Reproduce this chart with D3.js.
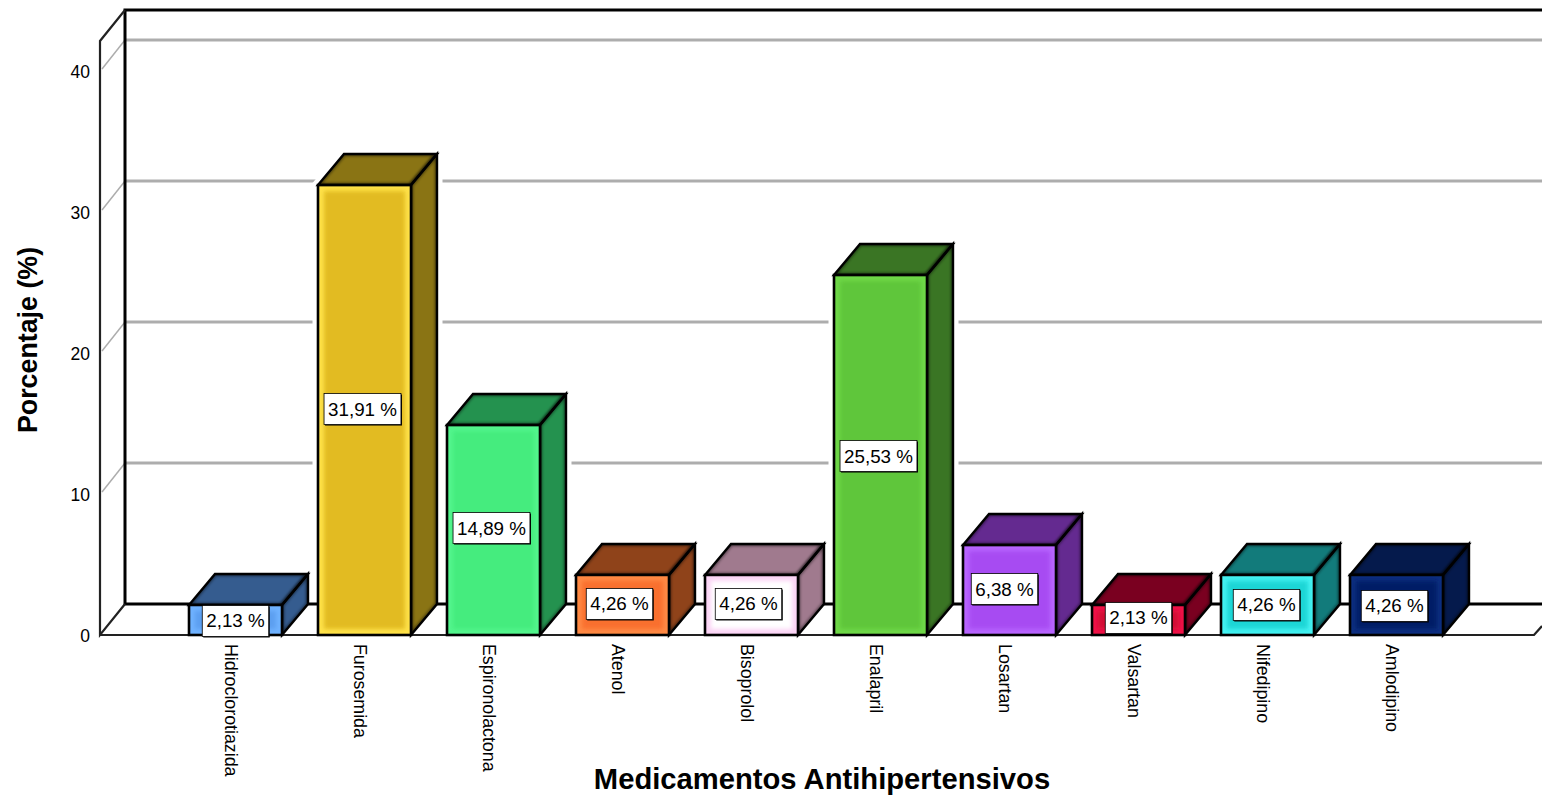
<!DOCTYPE html>
<html lang="es">
<head>
<meta charset="utf-8">
<title>Medicamentos Antihipertensivos</title>
<script src="https://cdn.jsdelivr.net/npm/d3@7"></script>
<style>
  html, body { margin: 0; padding: 0; background: #fff; overflow: hidden; }
  svg { display: block; font-family: "Liberation Sans", Arial, sans-serif; }
</style>
</head>
<body>
<svg id="chart" width="1542" height="797"></svg>
<script>
// Chart values
const categories = ["Hidroclorotiazida", "Furosemida", "Espironolactona", "Atenol", "Bisoprolol",
  "Enalapril", "Losartan", "Valsartan", "Nifedipino", "Amlodipino"];
const percentages = [2.13, 31.91, 14.89, 4.26, 4.26, 25.53, 6.38, 2.13, 4.26, 4.26];
const yTicks = [0, 10, 20, 30, 40];

// Face colours per bar: centre of the front, rim of the front, top and side
const frontFill = ["#5b9ff0", "#e2bb20", "#45ec7e", "#f9702f", "#ffffff", "#5fc63a", "#a74cf2", "#d20a35", "#1fd6d6", "#021f66"];
const frontRim  = ["#6fb2ff", "#ffe24a", "#52f58c", "#ff8a45", "#fbd3f5", "#6fd848", "#b865ff", "#f01248", "#45f2f2", "#0c2f80"];
const topFill   = ["#355c8f", "#8a7414", "#24924f", "#8f431a", "#a07a8e", "#3a7524", "#642a90", "#7a0020", "#127b7b", "#051a4c"];

// Small shifts of the value labels away from the centre of their bars
const labelShiftX = [0, -2, -2, -3, -3, -2, -5, 0, -1, -2];
const labelShiftY = [1, -1, -2, -1, -1, 1, -1, -2, 0, 1];

const wallDepth = { x: 25, y: -31 };
const barDepth = { x: 26, y: -31 };
const frontBase = 635;
const frontTop = 71;
const leftX = 100;

const svg = d3.select("#chart");

const y = d3.scaleLinear().domain([0, 40]).range([frontBase, frontTop]);
const x = d3.scaleBand().domain(categories).range([171, 1461]).paddingInner(36 / 129).paddingOuter(18 / 129);

const defs = svg.append("defs");
defs.append("filter").attr("id", "soft")
  .attr("x", "-20%").attr("y", "-20%").attr("width", "140%").attr("height", "140%")
  .append("feGaussianBlur").attr("stdDeviation", 2.2);
defs.append("filter").attr("id", "shade")
  .attr("x", "-20%").attr("y", "-20%").attr("width", "140%").attr("height", "140%")
  .append("feGaussianBlur").attr("stdDeviation", 1.4);

const backY = v => y(v) + wallDepth.y;

// Back wall gridlines and their continuation on the left wall
const grid = svg.append("g").attr("fill", "none").attr("stroke", "#adadad");
grid.selectAll("line.back").data(yTicks.slice(1)).join("line").attr("class", "back")
  .attr("x1", leftX + wallDepth.x).attr("x2", 1542)
  .attr("y1", backY).attr("y2", backY)
  .attr("stroke-width", 3);
grid.selectAll("line.side").data(yTicks.slice(1)).join("line").attr("class", "side")
  .attr("x1", leftX + 2).attr("x2", leftX + wallDepth.x)
  .attr("y1", d => y(d) - 2).attr("y2", backY)
  .attr("stroke-width", 1.5);

// White halo that keeps the gridlines off the bars
const outline = (d) => {
  const x0 = x(d.name), x1 = x0 + x.bandwidth(), yt = y(d.value), yb = y(0);
  return [[x0, yb], [x0, yt], [x0 + barDepth.x, yt + barDepth.y],
    [x1 + barDepth.x, yt + barDepth.y], [x1 + barDepth.x, yb + barDepth.y], [x1, yb]].join(" ");
};
const rows = categories.map((name, i) => ({ name, value: percentages[i], i }));

svg.append("g").selectAll("polygon").data(rows).join("polygon")
  .attr("points", outline)
  .attr("fill", "#fff").attr("stroke", "#fff").attr("stroke-width", 11);

// Frame of the box: floor, back wall and left wall
const frame = svg.append("g").attr("fill", "none").attr("stroke", "#000");
const line = d3.line();
frame.append("path").attr("stroke-width", 3)
  .attr("d", line([[1542, 10], [leftX + wallDepth.x, 10], [leftX + wallDepth.x, frontBase + wallDepth.y], [1542, frontBase + wallDepth.y]]));
frame.append("path").attr("stroke-width", 2.2).attr("stroke", "#222")
  .attr("d", line([[leftX + wallDepth.x, 10], [leftX, 41], [leftX, frontBase], [leftX + wallDepth.x, frontBase + wallDepth.y]]));
frame.append("path").attr("stroke-width", 2.2).attr("stroke", "#222")
  .attr("d", line([[leftX, frontBase], [1534, frontBase], [1542, 626]]));

// Bars as three visible faces of a box
const bars = svg.append("g").selectAll("g").data(rows).join("g");

bars.each(function (d) {
  const g = d3.select(this);
  const x0 = x(d.name), w = x.bandwidth(), x1 = x0 + w, yt = y(d.value), yb = y(0);
  const h = yb - yt;
  const clipId = "front-" + d.i;
  const faceId = "faces-" + d.i;

  const topPts = [[x0, yt], [x0 + barDepth.x, yt + barDepth.y], [x1 + barDepth.x, yt + barDepth.y], [x1, yt]];
  const sidePts = [[x1, yt], [x1 + barDepth.x, yt + barDepth.y], [x1 + barDepth.x, yb + barDepth.y], [x1, yb]];

  // Faces get a slight dark rim along the black edges
  const cp = defs.append("clipPath").attr("id", faceId);
  cp.append("polygon").attr("points", topPts.join(" "));
  cp.append("polygon").attr("points", sidePts.join(" "));
  const faces = g.append("g").attr("clip-path", `url(#${faceId})`);
  [topPts, sidePts].forEach(pts => {
    faces.append("polygon").attr("points", pts.join(" ")).attr("fill", topFill[d.i]);
    faces.append("polygon").attr("points", pts.join(" ")).attr("fill", "none")
      .attr("stroke", "#000").attr("stroke-opacity", 0.55).attr("stroke-width", 4).attr("filter", "url(#shade)");
  });
  [topPts, sidePts].forEach(pts => {
    g.append("polygon").attr("points", pts.join(" ")).attr("fill", "none")
      .attr("stroke", "#000").attr("stroke-width", 2.4).attr("stroke-linejoin", "miter");
  });

  // Front face: bright rim fading into the centre colour
  defs.append("clipPath").attr("id", clipId).append("rect")
    .attr("x", x0).attr("y", yt).attr("width", w).attr("height", h);
  const front = g.append("g").attr("clip-path", `url(#${clipId})`);
  front.append("rect").attr("x", x0).attr("y", yt).attr("width", w).attr("height", h).attr("fill", frontRim[d.i]);
  front.append("rect").attr("x", x0 + 6).attr("y", yt + 6)
    .attr("width", Math.max(0, w - 12)).attr("height", Math.max(0, h - 12))
    .attr("fill", frontFill[d.i]).attr("filter", "url(#soft)");
  g.append("rect").attr("x", x0).attr("y", yt).attr("width", w).attr("height", h)
    .attr("fill", "none").attr("stroke", "#000").attr("stroke-width", 2.6);
});

// Value labels in white boxes sized to their text, with a hard offset shadow
const labels = svg.append("g").selectAll("g").data(rows).join("g")
  .attr("transform", d => `translate(${x(d.name) + x.bandwidth() / 2 + labelShiftX[d.i]},${y(d.value / 2) + labelShiftY[d.i]})`);
labels.each(function (d) {
  const g = d3.select(this);
  const text = g.append("text")
    .attr("text-anchor", "middle").attr("y", 6.5)
    .attr("font-size", 18.8).attr("fill", "#000")
    .text(d.value.toFixed(2).replace(".", ",") + " %");
  const half = text.node().getComputedTextLength() / 2 + 4;
  g.insert("rect", "text")
    .attr("x", -half + 1).attr("y", -14.5).attr("width", half * 2).attr("height", 31)
    .attr("fill", "#000");
  g.insert("rect", "text")
    .attr("x", -half).attr("y", -15.5).attr("width", half * 2).attr("height", 31)
    .attr("fill", "#fff").attr("stroke", "#000").attr("stroke-width", 0.8);
});

// Value axis
const yAxis = d3.axisLeft(y).tickValues(yTicks).tickSize(0).tickPadding(10).tickFormat(d3.format("d"));
svg.append("g").attr("transform", `translate(${leftX},0)`).call(yAxis)
  .call(g => g.select(".domain").remove())
  .call(g => g.selectAll("text").attr("font-size", 17.5).attr("font-family", "inherit").attr("fill", "#000")
    .attr("dy", "0.32em").attr("y", 0.6));

// Category axis, names turned to read downwards
const xAxis = d3.axisBottom(x).tickSize(0).tickPadding(0);
svg.append("g").attr("transform", `translate(0,${frontBase})`).call(xAxis)
  .call(g => g.select(".domain").remove())
  .call(g => g.selectAll("text")
    .attr("font-size", 17.8).attr("font-family", "inherit").attr("fill", "#000")
    .attr("text-anchor", "start")
    .attr("dy", 0)
    .attr("transform", "translate(-10.5,9) rotate(90)")
    .attr("x", 0).attr("y", 0));

// Axis titles
svg.append("text").attr("x", 822).attr("y", 789).attr("text-anchor", "middle")
  .attr("font-size", 29.2).attr("font-weight", "bold").text("Medicamentos Antihipertensivos");
svg.append("text").attr("transform", "translate(37,340) rotate(-90)").attr("text-anchor", "middle")
  .attr("font-size", 26.8).attr("font-weight", "bold").text("Porcentaje (%)");
</script>
</body>
</html>
